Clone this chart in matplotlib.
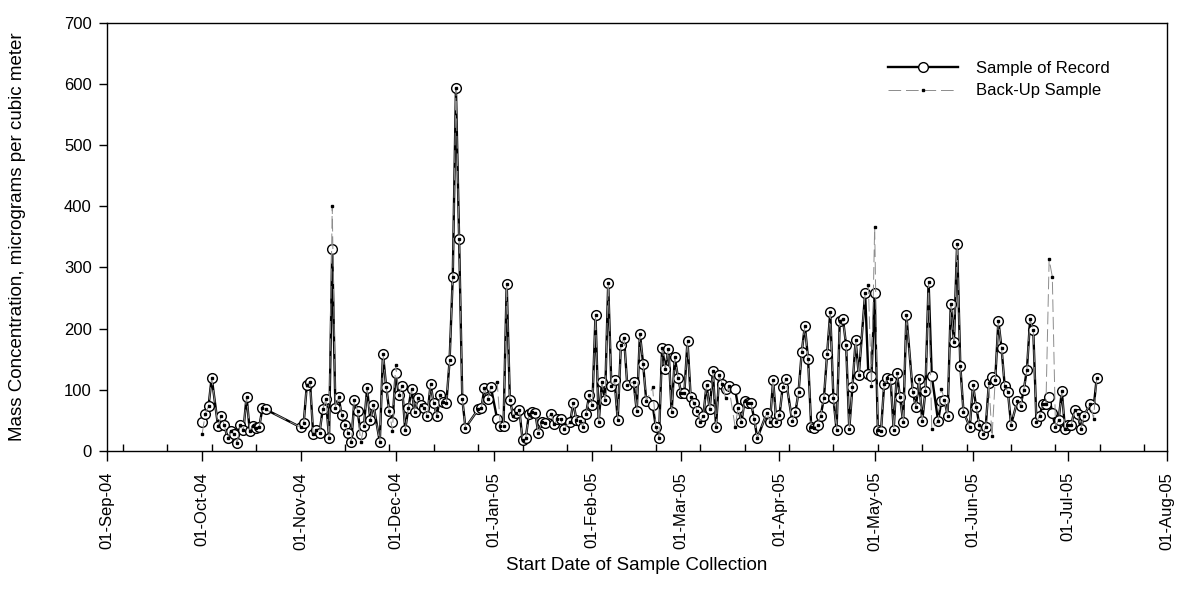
import numpy as np
import matplotlib
matplotlib.use("Agg")
import matplotlib.pyplot as plt
import matplotlib.dates as mdates
import pandas as pd

plt.rcParams["font.family"] = ["Liberation Sans", "DejaVu Sans"]

# Sampling days, counted from 1 Sep 2004
start_date = "2004-09-01"
sample_day = [
    30, 31, 32, 33, 35, 36, 37, 38, 39, 40, 41, 42, 43, 44, 45, 46, 47, 48, 49, 50,
    61, 62, 63, 64, 65, 66, 67, 68, 69, 70, 71, 72, 73, 74, 75, 76, 77,
    78, 79, 80, 81, 82, 83, 84, 86, 87, 88, 89, 90, 91, 92, 93, 94, 95, 96, 97, 98,
    99, 100, 101, 102, 103, 104, 105, 106, 107, 108, 109, 110, 111, 112, 113,
    117, 118, 119, 120, 121, 123, 124, 125, 126, 127, 128, 129, 130, 131, 132, 133,
    134, 135, 136, 137, 138, 140, 141, 142, 143, 144, 146, 147, 148, 149, 150, 151,
    152, 153, 154, 155, 156, 157, 158, 159, 160, 161, 162, 163, 164, 166, 167, 168,
    169, 170,
    172, 173, 174, 175, 176, 177, 178, 179, 180, 181, 182, 183, 184, 185, 186, 187,
    188, 189, 190, 191, 192, 193, 194, 195, 196, 198, 199, 200, 201, 202, 203, 204,
    205, 208, 209, 210, 211, 212, 213, 214, 216, 217, 218, 219, 220, 221, 222, 223,
    224, 225, 226, 227, 228, 229, 230, 231, 232, 233, 234, 235, 236, 237, 239, 240,
    241, 242, 243, 244, 245, 246, 247, 248, 249, 250, 251, 252, 254, 255, 256, 257,
    258, 259, 260, 262, 263, 264, 265, 266, 267, 268, 269, 270, 272, 273, 274, 275,
    276, 277, 278, 279, 280, 281, 282, 283, 284, 285, 287, 288, 289, 290, 291, 292,
    293, 294, 295, 296, 297, 298, 299, 300, 301, 302, 303, 304, 305, 306, 307, 308,
    310, 311, 312,
]

# Sample of record, micrograms per cubic meter
record = [
    48, 61, 73, 120, 41, 57, 42, 21, 32, 28, 13, 42, 34, 89, 33, 41, 38, 40, 70, 68,
    39, 45, 108, 113, 28, 34, 30, 68, 85, 22, 330, 70, 88, 59, 43, 30, 14,
    84, 65, 28, 41, 103, 51, 75, 15, 159, 105, 65, 47, 128, 91, 106, 35, 70, 101, 63, 86,
    75, 71, 57, 109, 78, 57, 91, 80, 79, 148, 285, 593, 347, 85, 38,
    68, 70, 103, 85, 105, 52, 41, 41, 273, 84, 58, 62, 67, 18, 21, 60,
    63, 62, 29, 47, 46, 61, 44, 52, 53, 36, 47, 79, 51, 49, 40, 60,
    91, 75, 222, 47, 112, 83, 274, 106, 116, 51, 173, 185, 108, 113, 65, 192,
    143, 82,
    75, 40, 22, 169, 134, 167, 63, 153, 120, 95, 95, 180, 88, 79, 66, 48,
    58, 108, 68, 130, 40, 124, 109, 101, 106, 101, 71, 47, 82, 79, 79, 53,
    21, 62, 48, 116, 48, 59, 104, 117, 49, 63, 96, 161, 205, 151, 39, 37,
    43, 58, 86, 158, 227, 86, 34, 213, 216, 173, 36, 105, 181, 124, 258, 126,
    123, 259, 35, 33, 109, 119, 117, 35, 128, 88, 47, 222, 97, 72, 117, 49,
    98, 277, 123, 49, 81, 84, 58, 241, 178, 339, 139, 64, 39, 108, 72, 43,
    28, 39, 111, 121, 116, 213, 168, 106, 97, 43, 82, 74, 100, 133, 215, 198,
    47, 58, 77, 77, 89, 62, 39, 51, 98, 36, 43, 43, 67, 60, 36, 58,
    77, 70, 119,
]

# Back-up sample, micrograms per cubic meter
backup = [
    28, 61, 73, 120, 41, 57, 42, 21, 32, 28, 13, 42, 34, 89, 33, 41, 38, 40, 70, 68,
    39, 45, 108, 113, 28, 34, 30, 68, 85, 22, 400, 70, 88, 59, 43, 30, 14,
    84, 65, 14, 41, 103, 51, 75, 15, 159, 105, 65, 33, 141, 91, 106, 35, 70, 101, 63, 86,
    75, 71, 57, 109, 78, 57, 91, 80, 79, 148, 285, 593, 347, 85, 38,
    68, 70, 103, 85, 105, 113, 41, 41, 273, 84, 58, 62, 67, 18, 21, 60,
    63, 62, 29, 47, 46, 61, 44, 52, 53, 36, 47, 79, 51, 49, 40, 60,
    91, 75, 222, 47, 112, 83, 274, 106, 116, 51, 173, 185, 108, 113, 65, 192,
    143, 82,
    104, 40, 22, 169, 134, 167, 63, 153, 120, 95, 95, 180, 88, 79, 66, 48,
    58, 108, 68, 130, 40, 124, 109, 86, 106, 40, 71, 47, 82, 79, 79, 53,
    21, 62, 48, 116, 48, 59, 104, 117, 49, 63, 96, 161, 205, 151, 39, 37,
    43, 58, 86, 158, 227, 86, 34, 213, 216, 173, 36, 105, 181, 124, 258, 272,
    107, 366, 35, 33, 109, 119, 117, 35, 128, 88, 47, 222, 97, 72, 117, 49,
    98, 277, 36, 49, 102, 84, 58, 241, 178, 339, 139, 64, 39, 108, 72, 43,
    28, 39, 111, 24, 116, 213, 168, 106, 97, 43, 82, 74, 100, 133, 215, 198,
    47, 58, 77, 77, 313, 285, 39, 51, 98, 36, 43, 43, 67, 60, 36, 58,
    77, 53, 119,
]

dates = np.datetime64(start_date) + np.array(sample_day).astype("timedelta64[D]")

fig = plt.figure(figsize=(11.78, 6.05), dpi=100)
ax = fig.add_axes([107 / 1178, 1 - 451 / 605, 1059.5 / 1178, 428.3 / 605])

ax.plot(dates, record, color="black", lw=1.7, marker="o", markersize=7.0,
        markerfacecolor="white", markeredgecolor="black", markeredgewidth=1.0,
        label="Sample of Record", zorder=3)
ax.plot(dates, backup, color="#8c8c8c", lw=0.7, linestyle=(0, (13, 5)),
        marker="s", markersize=2.0, markerfacecolor="black",
        markeredgecolor="black", label="Back-Up Sample", zorder=4)

ax.set_ylim(0, 700)
ax.set_yticks(np.arange(0, 701, 100))
ax.set_xlim(np.datetime64("2004-09-01"), np.datetime64("2005-08-01"))

ax.xaxis.set_major_locator(mdates.MonthLocator())
ax.xaxis.set_major_formatter(mdates.DateFormatter("%d-%b-%y"))
minor_ticks = pd.date_range("2004-09-06", "2005-08-01", freq="14D")
ax.set_xticks(mdates.date2num(minor_ticks), minor=True)

ax.tick_params(axis="x", which="major", direction="out", length=7, width=1,
               labelsize=12, rotation=90, pad=8)
ax.tick_params(axis="x", which="minor", direction="in", length=5, width=1)
ax.tick_params(axis="y", which="major", direction="out", length=6, width=1,
               labelsize=12, pad=5)

for sp in ax.spines.values():
    sp.set_linewidth(1.0)

ax.set_xlabel("Start Date of Sample Collection", fontsize=13.5, va="center")
ax.xaxis.set_label_coords(0.5, -(566 - 451) / 428.3)
ax.set_ylabel("Mass Concentration, micrograms per cubic meter", fontsize=13.5,
              va="center")
ax.yaxis.set_label_coords(-(107 - 18) / 1059.5, 0.5)

ax.legend(loc="upper left", bbox_to_anchor=(888 / 1178, 1 - 61 / 605),
          bbox_transform=fig.transFigure, frameon=False, fontsize=12,
          handlelength=4.2, handletextpad=1.1, labelspacing=0.45,
          borderpad=0, borderaxespad=0, numpoints=1)

fig.savefig("out.png", dpi=100)
